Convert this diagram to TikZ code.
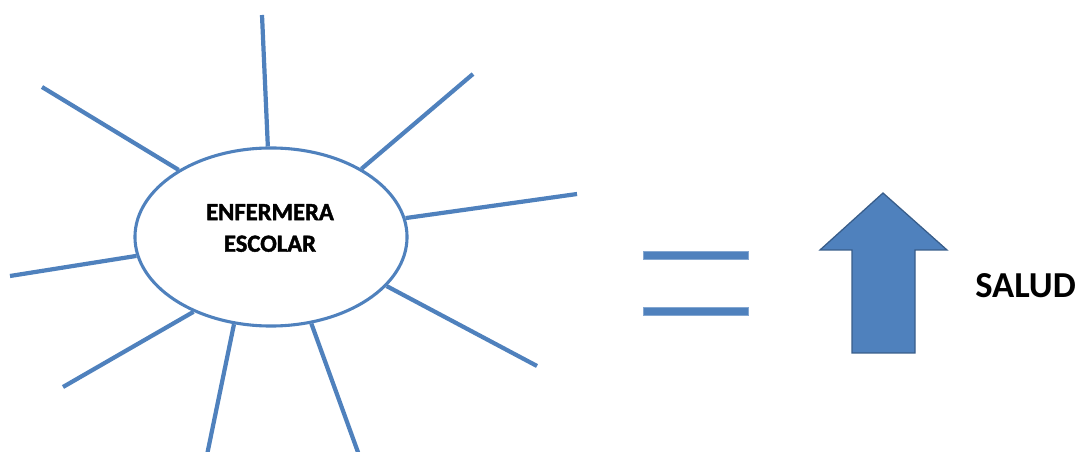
\documentclass[tikz,border=0pt]{standalone}
\usepackage{fontspec}
\setmainfont{Carlito}
\newfontfamily\heavyfont[BoldFeatures={FakeBold=1.6}]{Carlito}
\usetikzlibrary{positioning, shapes.geometric}
\definecolor{rayblue}{RGB}{79,129,189}
\definecolor{edgeblue}{RGB}{56,93,138}

\begin{document}
\begin{tikzpicture}[x=0.025cm, y=-0.025cm,
  ray/.style={line width=3pt, rayblue},
  hub/.style={draw=rayblue, line width=2.2pt, ellipse, minimum width=6.8cm,
              minimum height=4.45cm, inner sep=0pt},
  hubtxt/.style={align=center, inner sep=0pt,
                 font=\fontsize{17.5}{22.5}\selectfont\heavyfont\bfseries},
  bar/.style={fill=rayblue, draw=rayblue!70!white, line width=0.4pt,
              minimum width=2.625cm, minimum height=0.2cm, inner sep=0pt},
  lbl/.style={font=\fontsize{26}{30}\selectfont\bfseries, inner sep=0pt}
]
\useasboundingbox (0,0) rectangle (1092,452);
% central ellipse
\node[hub] (hub) at (271,237) {};
\node[hubtxt] (hubtext) at (270,228) {ENFERMERA\\ESCOLAR};
% ray ends
\coordinate (tn)  at (262,15);
\coordinate (tne) at (473,74);
\coordinate (te)  at (577,194);
\coordinate (tse) at (537,366);
\coordinate (tss) at (359,455);
\coordinate (tsw) at (207,455);
\coordinate (tws) at (63,387);
\coordinate (tw)  at (10,276);
\coordinate (tnw) at (42,87);
\foreach \a/\p in {92.5/tn, 37/tne, 8/te, -23.7/tse, -65.3/tss,
                   -113.4/tsw, -136.8/tws, -172.5/tw, 144/tnw}
  \draw[ray] (hub.\a) -- (\p);
% equals sign
\node[bar] (eqtop) at (695.5,255) {};
\node[bar] (eqbot) at (695.5,311) {};
% up arrow
\draw[fill=rayblue, draw=edgeblue, line width=0.9pt, line join=miter]
  (883,193) -- (947,250) -- (915,250) -- (915,353) -- (852,353)
  -- (852,250) -- (820,250) -- cycle;
\node[lbl, anchor=base west] (salud) at (975,298) {SALUD};
\end{tikzpicture}
\end{document}
